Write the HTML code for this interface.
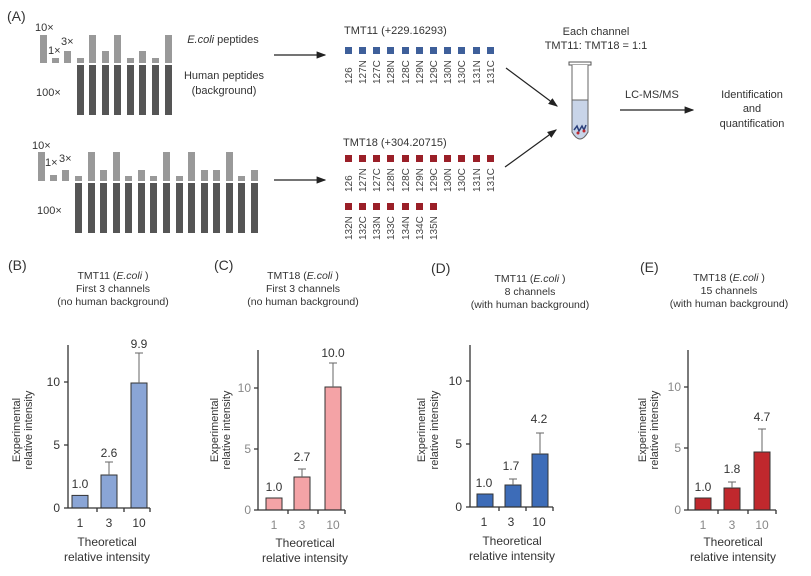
<!DOCTYPE html>
<html><head><meta charset="utf-8"><style>
html,body{margin:0;padding:0;background:#fff}
svg{display:block;font-family:"Liberation Sans",sans-serif;fill:#333}
.l{fill:#999}.d{fill:#555}
.b{fill:#3e5f9a}.r{fill:#9a1f28}
.lab{font-size:10px;fill:#444}
.t{font-size:11px;fill:#333}
.ax{stroke:#333;stroke-width:1.3;fill:none}
.g{fill:#888}
</style></head><body>
<svg width="811" height="576" viewBox="0 0 811 576">
<defs><marker id="ar" markerWidth="8" markerHeight="8" refX="7" refY="4" orient="auto"><path d="M0,1 L8,4 L0,7 z" fill="#222"/></marker></defs>
<text x="7" y="21" font-size="14" fill="#333">(A)</text>
<g class="l">
<rect x="40" y="35" width="7" height="28"/><rect x="52" y="58" width="7" height="5"/><rect x="64" y="51" width="7" height="12"/>
<rect x="77" y="58" width="7" height="5"/><rect x="89" y="35" width="7" height="28"/><rect x="102" y="51" width="7" height="12"/><rect x="114" y="35" width="7" height="28"/><rect x="127" y="58" width="7" height="5"/><rect x="139" y="51" width="7" height="12"/><rect x="152" y="58" width="7" height="5"/><rect x="165" y="35" width="7" height="28"/>
</g>
<g class="d">
<rect x="77" y="65" width="7" height="50"/><rect x="89" y="65" width="7" height="50"/><rect x="102" y="65" width="7" height="50"/><rect x="114" y="65" width="7" height="50"/><rect x="127" y="65" width="7" height="50"/><rect x="139" y="65" width="7" height="50"/><rect x="152" y="65" width="7" height="50"/><rect x="165" y="65" width="7" height="50"/>
</g>
<text x="35" y="31" class="t">10×</text><text x="48" y="54" class="t">1×</text><text x="61" y="45" class="t">3×</text><text x="36" y="96" class="t">100×</text>
<text x="223" y="43" class="t" text-anchor="middle"><tspan font-style="italic">E.coli</tspan> peptides</text>
<text x="224" y="79" class="t" text-anchor="middle">Human peptides</text>
<text x="224" y="94" class="t" text-anchor="middle">(background)</text>
<line x1="274" y1="55" x2="325" y2="55" stroke="#222" stroke-width="1.2" marker-end="url(#ar)"/>
<g class="l">
<rect x="38" y="152" width="7" height="29"/><rect x="50" y="175" width="7" height="6"/><rect x="62" y="170" width="7" height="11"/>
<rect x="75" y="176" width="7" height="5"/><rect x="88" y="152" width="7" height="29"/><rect x="100" y="170" width="7" height="11"/><rect x="113" y="152" width="7" height="29"/><rect x="125" y="176" width="7" height="5"/><rect x="138" y="170" width="7" height="11"/><rect x="150" y="176" width="7" height="5"/><rect x="163" y="152" width="7" height="29"/><rect x="176" y="176" width="7" height="5"/><rect x="188" y="152" width="7" height="29"/><rect x="201" y="170" width="7" height="11"/><rect x="213" y="170" width="7" height="11"/><rect x="226" y="152" width="7" height="29"/><rect x="238" y="176" width="7" height="5"/><rect x="251" y="170" width="7" height="11"/>
</g>
<g class="d">
<rect x="75" y="183" width="7" height="50"/><rect x="88" y="183" width="7" height="50"/><rect x="100" y="183" width="7" height="50"/><rect x="113" y="183" width="7" height="50"/><rect x="125" y="183" width="7" height="50"/><rect x="138" y="183" width="7" height="50"/><rect x="150" y="183" width="7" height="50"/><rect x="163" y="183" width="7" height="50"/><rect x="176" y="183" width="7" height="50"/><rect x="188" y="183" width="7" height="50"/><rect x="201" y="183" width="7" height="50"/><rect x="213" y="183" width="7" height="50"/><rect x="226" y="183" width="7" height="50"/><rect x="238" y="183" width="7" height="50"/><rect x="251" y="183" width="7" height="50"/>
</g>
<text x="32" y="149" class="t">10×</text><text x="45" y="166" class="t">1×</text><text x="59" y="162" class="t">3×</text><text x="37" y="214" class="t">100×</text>
<line x1="274" y1="180" x2="325" y2="180" stroke="#222" stroke-width="1.2" marker-end="url(#ar)"/>
<text x="344" y="34" class="t">TMT11 (+229.16293)</text>
<g class="b">
<rect x="345" y="47" width="7" height="7"/><rect x="359" y="47" width="7" height="7"/><rect x="373" y="47" width="7" height="7"/><rect x="387" y="47" width="7" height="7"/><rect x="402" y="47" width="7" height="7"/><rect x="416" y="47" width="7" height="7"/><rect x="430" y="47" width="7" height="7"/><rect x="444" y="47" width="7" height="7"/><rect x="458" y="47" width="7" height="7"/><rect x="473" y="47" width="7" height="7"/><rect x="487" y="47" width="7" height="7"/>
</g>
<g class="lab">
<text transform="translate(352,84) rotate(-90)">126</text><text transform="translate(366,84) rotate(-90)">127N</text><text transform="translate(380,84) rotate(-90)">127C</text><text transform="translate(394,84) rotate(-90)">128N</text><text transform="translate(409,84) rotate(-90)">128C</text><text transform="translate(423,84) rotate(-90)">129N</text><text transform="translate(437,84) rotate(-90)">129C</text><text transform="translate(451,84) rotate(-90)">130N</text><text transform="translate(465,84) rotate(-90)">130C</text><text transform="translate(480,84) rotate(-90)">131N</text><text transform="translate(494,84) rotate(-90)">131C</text>
</g>
<text x="343" y="146" class="t">TMT18 (+304.20715)</text>
<g class="r">
<rect x="345" y="155" width="7" height="7"/><rect x="359" y="155" width="7" height="7"/><rect x="373" y="155" width="7" height="7"/><rect x="387" y="155" width="7" height="7"/><rect x="402" y="155" width="7" height="7"/><rect x="416" y="155" width="7" height="7"/><rect x="430" y="155" width="7" height="7"/><rect x="444" y="155" width="7" height="7"/><rect x="458" y="155" width="7" height="7"/><rect x="473" y="155" width="7" height="7"/><rect x="487" y="155" width="7" height="7"/>
<rect x="345" y="203" width="7" height="7"/><rect x="359" y="203" width="7" height="7"/><rect x="373" y="203" width="7" height="7"/><rect x="387" y="203" width="7" height="7"/><rect x="402" y="203" width="7" height="7"/><rect x="416" y="203" width="7" height="7"/><rect x="430" y="203" width="7" height="7"/>
</g>
<g class="lab">
<text transform="translate(352,192) rotate(-90)">126</text><text transform="translate(366,192) rotate(-90)">127N</text><text transform="translate(380,192) rotate(-90)">127C</text><text transform="translate(394,192) rotate(-90)">128N</text><text transform="translate(409,192) rotate(-90)">128C</text><text transform="translate(423,192) rotate(-90)">129N</text><text transform="translate(437,192) rotate(-90)">129C</text><text transform="translate(451,192) rotate(-90)">130N</text><text transform="translate(465,192) rotate(-90)">130C</text><text transform="translate(480,192) rotate(-90)">131N</text><text transform="translate(494,192) rotate(-90)">131C</text>
<text transform="translate(352,240) rotate(-90)">132N</text><text transform="translate(366,240) rotate(-90)">132C</text><text transform="translate(380,240) rotate(-90)">133N</text><text transform="translate(394,240) rotate(-90)">133C</text><text transform="translate(409,240) rotate(-90)">134N</text><text transform="translate(423,240) rotate(-90)">134C</text><text transform="translate(437,240) rotate(-90)">135N</text>
</g>
<text x="596" y="35" class="t" text-anchor="middle">Each channel</text>
<text x="596" y="49" class="t" text-anchor="middle">TMT11: TMT18 = 1:1</text>
<line x1="506" y1="68" x2="557" y2="106" stroke="#222" stroke-width="1.2" marker-end="url(#ar)"/>
<line x1="505" y1="167" x2="556" y2="130" stroke="#222" stroke-width="1.2" marker-end="url(#ar)"/>
<rect x="569" y="62" width="22" height="3" fill="#fff" stroke="#555"/>
<path d="M572,65 L572,132 Q580,146 588,132 L588,65" fill="#fff" stroke="#666"/>
<path d="M572,100 L588,100 L588,132 Q580,146 572,132 Z" fill="#c8d4e8" stroke="#666"/>
<path d="M574,130 l3,-4 l2,5 l3,-5 l2,4 l2,-5" stroke="#2a3f7a" stroke-width="1.5" fill="none"/>
<circle cx="578" cy="133" r="1.5" fill="#c0282d"/><circle cx="584" cy="131" r="1.5" fill="#c0282d"/>
<text x="625" y="98" class="t">LC-MS/MS</text>
<line x1="620" y1="110" x2="693" y2="110" stroke="#222" stroke-width="1.2" marker-end="url(#ar)"/>
<text x="752" y="98" class="t" text-anchor="middle">Identification</text>
<text x="752" y="112" class="t" text-anchor="middle">and</text>
<text x="752" y="127" class="t" text-anchor="middle">quantification</text>

<text x="8" y="270" font-size="14">(B)</text>
<g font-size="10.5" text-anchor="middle"><text x="113" y="279">TMT11 (<tspan font-style="italic">E.coli</tspan> )</text><text x="113" y="292">First 3 channels</text><text x="113" y="305">(no human background)</text></g>
<g>
<rect x="72" y="495.4" width="16" height="12.6" fill="#8aa5d6" stroke="#333"/>
<rect x="101" y="475" width="16" height="33" fill="#8aa5d6" stroke="#333"/>
<rect x="131" y="383" width="16" height="125" fill="#8aa5d6" stroke="#333"/>
<path d="M109,475 V462 M105,462 H113 M139,383 V353 M135,353 H143" stroke="#666" fill="none"/>
<path class="ax" d="M68,345 V508 H150 M64,508 H68 M64,445 H68 M64,382 H68 M97,508 V512 M124,508 V512 M150,508 V512"/>
<g font-size="12" text-anchor="end"><text x="60" y="512">0</text><text x="60" y="449">5</text><text x="60" y="386">10</text></g>
<g font-size="12" text-anchor="middle"><text x="80" y="527">1</text><text x="109" y="527">3</text><text x="139" y="527">10</text>
<text x="80" y="488">1.0</text><text x="109" y="457">2.6</text><text x="139" y="348">9.9</text>
<text x="107" y="546" font-size="12">Theoretical</text><text x="107" y="561" font-size="12">relative intensity</text></g>
<g font-size="11" text-anchor="middle"><text transform="translate(20,430) rotate(-90)">Experimental</text><text transform="translate(32,430) rotate(-90)">relative intensity</text></g>
</g>
<text x="214" y="270" font-size="14">(C)</text>
<g font-size="10.5" text-anchor="middle"><text x="303" y="279">TMT18 (<tspan font-style="italic">E.coli</tspan> )</text><text x="303" y="292">First 3 channels</text><text x="303" y="305">(no human background)</text></g>
<g>
<rect x="266" y="498" width="16" height="12" fill="#f4a3a6" stroke="#333"/>
<rect x="294" y="477" width="16" height="33" fill="#f4a3a6" stroke="#333"/>
<rect x="325" y="387" width="16" height="123" fill="#f4a3a6" stroke="#333"/>
<path d="M302,477 V469 M298,469 H306 M333,387 V363 M329,363 H337" stroke="#666" fill="none"/>
<path class="ax" d="M258,350 V510 H345 M254,510 H258 M254,449 H258 M254,388 H258 M288,510 V514 M318,510 V514 M345,510 V514"/>
<g font-size="12" text-anchor="end" class="g"><text x="251" y="514">0</text><text x="251" y="453">5</text><text x="251" y="392">10</text></g>
<g font-size="12" text-anchor="middle"><g class="g"><text x="274" y="529">1</text><text x="302" y="529">3</text><text x="333" y="529">10</text></g>
<text x="274" y="491">1.0</text><text x="302" y="461">2.7</text><text x="333" y="357">10.0</text>
<text x="305" y="547" font-size="12">Theoretical</text><text x="305" y="562" font-size="12">relative intensity</text></g>
<g font-size="11" text-anchor="middle"><text transform="translate(218,430) rotate(-90)">Experimental</text><text transform="translate(230,430) rotate(-90)">relative intensity</text></g>
</g>
<text x="431" y="273" font-size="14">(D)</text>
<g font-size="10.5" text-anchor="middle"><text x="530" y="282">TMT11 (<tspan font-style="italic">E.coli</tspan> )</text><text x="530" y="295">8 channels</text><text x="530" y="308">(with human background)</text></g>
<g>
<rect x="477" y="494" width="16" height="13" fill="#3d6cb8" stroke="#333"/>
<rect x="505" y="485" width="16" height="22" fill="#3d6cb8" stroke="#333"/>
<rect x="532" y="454" width="16" height="53" fill="#3d6cb8" stroke="#333"/>
<path d="M513,485 V479 M509,479 H517 M540,454 V433 M536,433 H544" stroke="#666" fill="none"/>
<path class="ax" d="M470,345 V507 H553 M466,507 H470 M466,444 H470 M466,381 H470 M499,507 V511 M526,507 V511 M553,507 V511"/>
<g font-size="12" text-anchor="end"><text x="462" y="511">0</text><text x="462" y="448">5</text><text x="462" y="385">10</text></g>
<g font-size="12" text-anchor="middle"><text x="484" y="526">1</text><text x="511" y="526">3</text><text x="539" y="526">10</text>
<text x="484" y="487">1.0</text><text x="511" y="470">1.7</text><text x="539" y="423">4.2</text>
<text x="512" y="545" font-size="12">Theoretical</text><text x="512" y="560" font-size="12">relative intensity</text></g>
<g font-size="11" text-anchor="middle"><text transform="translate(425,430) rotate(-90)">Experimental</text><text transform="translate(438,430) rotate(-90)">relative intensity</text></g>
</g>
<text x="640" y="272" font-size="14">(E)</text>
<g font-size="10.5" text-anchor="middle"><text x="729" y="281">TMT18 (<tspan font-style="italic">E.coli</tspan> )</text><text x="729" y="294">15 channels</text><text x="729" y="307">(with human background)</text></g>
<g>
<rect x="695" y="498" width="16" height="12" fill="#c0282d" stroke="#333"/>
<rect x="724" y="488" width="16" height="22" fill="#c0282d" stroke="#333"/>
<rect x="754" y="452" width="16" height="58" fill="#c0282d" stroke="#333"/>
<path d="M732,488 V482 M728,482 H736 M762,452 V429 M758,429 H766" stroke="#666" fill="none"/>
<path class="ax" d="M688,350 V510 H776 M684,510 H688 M684,448 H688 M684,387 H688 M718,510 V514 M748,510 V514 M776,510 V514"/>
<g font-size="12" text-anchor="end" class="g"><text x="681" y="514">0</text><text x="681" y="452">5</text><text x="681" y="391">10</text></g>
<g font-size="12" text-anchor="middle"><g class="g"><text x="703" y="529">1</text><text x="732" y="529">3</text><text x="762" y="529">10</text></g>
<text x="703" y="491">1.0</text><text x="732" y="473">1.8</text><text x="762" y="421">4.7</text>
<text x="733" y="546" font-size="12">Theoretical</text><text x="733" y="561" font-size="12">relative intensity</text></g>
<g font-size="11" text-anchor="middle"><text transform="translate(646,430) rotate(-90)">Experimental</text><text transform="translate(658,430) rotate(-90)">relative intensity</text></g>
</g>
</svg>
</body></html>
